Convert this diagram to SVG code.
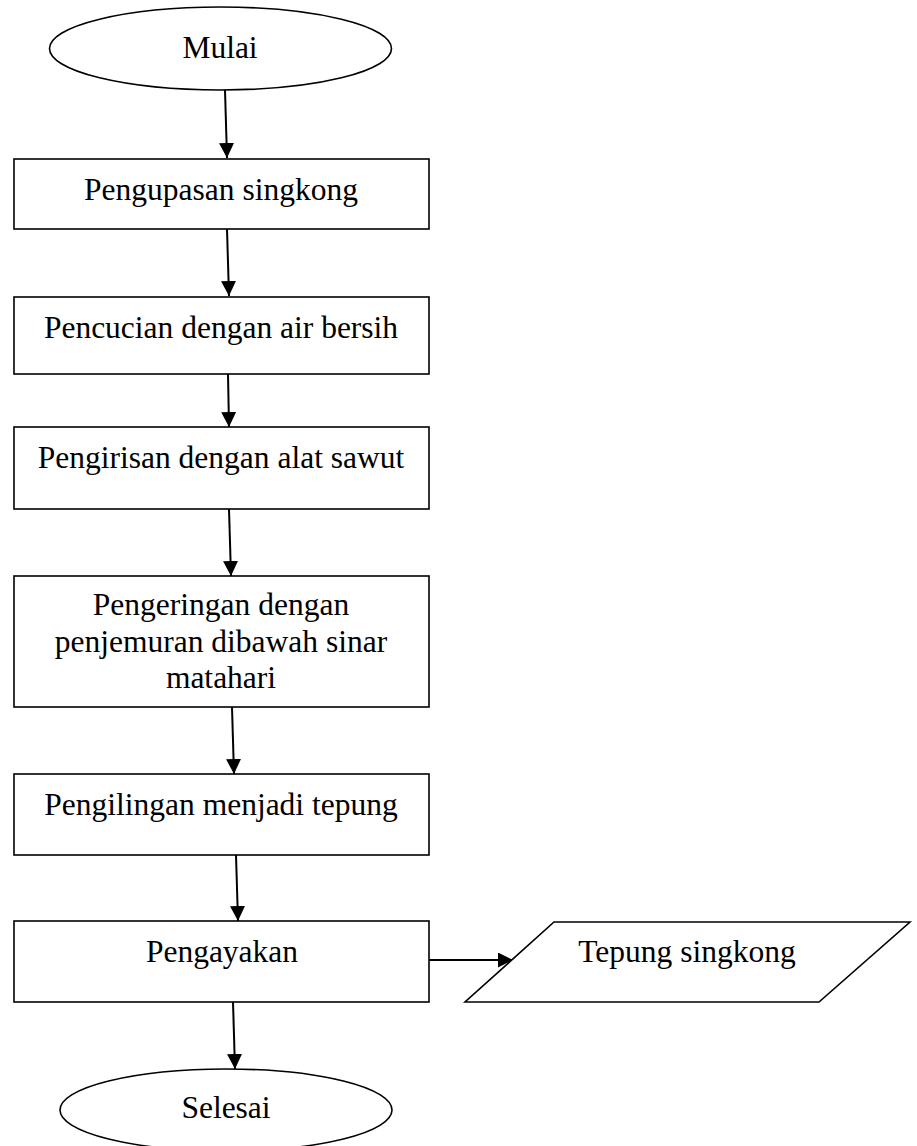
<svg xmlns="http://www.w3.org/2000/svg" width="917" height="1146" viewBox="0 0 917 1146">
<style>
.shape{fill:#fff;stroke:#000;stroke-width:1.6}
.conn{stroke:#000;stroke-width:2;fill:none}
text{font-family:"Liberation Serif","Times New Roman",serif;font-size:31.5px;fill:#000;text-anchor:middle}
</style>
<defs>
<marker id="arr" markerUnits="userSpaceOnUse" markerWidth="16" markerHeight="16" refX="15" refY="7.5" orient="auto">
<path d="M0,0 L15,7.5 L0,15 z" fill="#000"/>
</marker>
</defs>
<rect width="917" height="1146" fill="#fff"/>
<g id="connectors">
<line class="conn" x1="225" y1="90" x2="227" y2="158" marker-end="url(#arr)"/>
<line class="conn" x1="227" y1="229" x2="229" y2="296" marker-end="url(#arr)"/>
<line class="conn" x1="228" y1="374" x2="229" y2="427" marker-end="url(#arr)"/>
<line class="conn" x1="229" y1="509" x2="231" y2="576" marker-end="url(#arr)"/>
<line class="conn" x1="232" y1="707" x2="234" y2="774" marker-end="url(#arr)"/>
<line class="conn" x1="236" y1="855" x2="238" y2="921" marker-end="url(#arr)"/>
<line class="conn" x1="233" y1="1002" x2="235" y2="1069" marker-end="url(#arr)"/>
<line class="conn" x1="429" y1="960" x2="513" y2="960" marker-end="url(#arr)"/>
</g>
<g id="mulai">
<ellipse class="shape" cx="220.5" cy="48.5" rx="171" ry="41.5"/>
<text x="220" y="58">Mulai</text>
</g>
<g id="pengupasan">
<rect class="shape" x="14" y="159" width="415" height="70"/>
<text x="221" y="200">Pengupasan singkong</text>
</g>
<g id="pencucian">
<rect class="shape" x="14" y="297" width="415" height="77"/>
<text x="221" y="338">Pencucian dengan air bersih</text>
</g>
<g id="pengirisan">
<rect class="shape" x="14" y="427" width="415" height="82"/>
<text x="221" y="468">Pengirisan dengan alat sawut</text>
</g>
<g id="pengeringan">
<rect class="shape" x="14" y="576" width="415" height="131"/>
<text x="221" y="615">Pengeringan dengan</text>
<text x="221" y="652">penjemuran dibawah sinar</text>
<text x="221" y="688">matahari</text>
</g>
<g id="pengilingan">
<rect class="shape" x="14" y="774" width="415" height="81"/>
<text x="221" y="815">Pengilingan menjadi tepung</text>
</g>
<g id="pengayakan">
<rect class="shape" x="14" y="921" width="415" height="81"/>
<text x="222" y="962">Pengayakan</text>
</g>
<g id="tepung">
<polygon class="shape" points="554,922 910,922 819,1002 465,1002"/>
<text x="687" y="962">Tepung singkong</text>
</g>
<g id="selesai">
<ellipse class="shape" cx="226" cy="1110" rx="166" ry="41"/>
<text x="226" y="1118">Selesai</text>
</g>
</svg>
